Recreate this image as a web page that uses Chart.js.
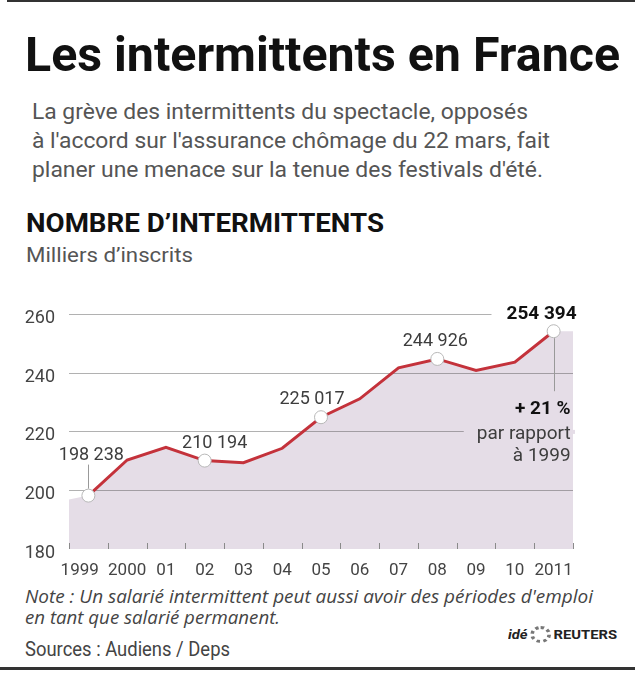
<!DOCTYPE html>
<html lang="fr">
<head>
<meta charset="utf-8">
<title>Les intermittents en France</title>
<script src="https://cdn.jsdelivr.net/npm/chart.js@4.4.1/dist/chart.umd.min.js"></script>
<style>
    html, body { margin: 0; padding: 0; background: #fff; }
    body { position: relative; width: 642px; height: 675px; overflow: hidden; font-family: Roboto, sans-serif; }
    .rule { position: absolute; background: #333; }
    .txt { position: absolute; white-space: nowrap; transform-origin: 0 0; }
    #title { left: 25px; top: 31px; font-size: 48px; line-height: 48px; font-weight: 700; color: #111; }
    .sub { left: 32px; font-size: 22px; line-height: 22px; color: #555; }
    #head { left: 26px; top: 211px; font-size: 25px; line-height: 25px; font-weight: 700; color: #111; }
    #unit { left: 26px; top: 245px; font-size: 20px; line-height: 20px; color: #555; }
    .note { left: 25px; font-family: "Open Sans", sans-serif; font-style: italic; font-size: 18px; line-height: 18px; color: #444; }
    #src { left: 25px; top: 639px; font-size: 20px; line-height: 20px; color: #444; }
    #logo { left: 508px; top: 626px; font-size: 12px; line-height: 16px; font-weight: 700; color: #222; }
    #logo i { font-style: italic; }
    #logo .dot { display: inline-block; width: 11px; height: 11px; border: 3px dotted #777; border-radius: 50%; vertical-align: -4px; margin: 0 2px; }
    #chartBox { position: absolute; left: 0; top: 290px; width: 642px; height: 290px; }
</style>
</head>
<body>
<div class="rule" style="left:7px;top:0;width:628px;height:2px"></div>
<div class="txt" id="title" data-w="595">Les intermittents en France</div>
<div class="txt sub" style="top:101px" data-w="496">La grève des intermittents du spectacle, opposés</div>
<div class="txt sub" style="top:130px" data-w="518">à l'accord sur l'assurance chômage du 22 mars, fait</div>
<div class="txt sub" style="top:159px" data-w="511">planer une menace sur la tenue des festivals d'été.</div>
<div class="txt" id="head" data-w="358">NOMBRE D’INTERMITTENTS</div>
<div class="txt" id="unit" data-w="167">Milliers d’inscrits</div>
<div id="chartBox"><canvas id="intermittentsChart"></canvas></div>
<div class="txt note" style="top:587px" data-w="568">Note : Un salarié intermittent peut aussi avoir des périodes d'emploi</div>
<div class="txt note" style="top:608px" data-w="255">en tant que salarié permanent.</div>
<div class="txt" id="src" data-w="205">Sources : Audiens / Deps</div>
<div class="txt" id="logo" data-w="109"><i>idé</i><span class="dot"></span>REUTERS</div>
<div class="rule" style="left:0;top:667px;width:635px;height:3px"></div>

<script>
// data (thousands of registered workers)
var years = ['1999', '2000', '01', '02', '03', '04', '05', '06', '07', '08', '09', '10', '2011'];
var inscrits = [198.238, 210.4, 214.7, 210.194, 209.5, 214.4, 225.017, 231.3, 241.9, 244.926, 241.0, 243.8, 254.394];
var valueLabels = ['198 238', '', '', '210 194', '', '', '225 017', '', '', '244 926', '', '', '254 394'];
var yTicks = [180, 200, 220, 240, 260];
var noteLines = ['+ 21 %', 'par rapport', 'à 1999'];

(function () {
    'use strict';

    var FILL = '#e5dde7';
    var INK = '#3d3d3d';

    // where each value label sits relative to its point
    var labelPos = {
        0: { dx: 3, dy: -36, leader: true },
        3: { dx: 10, dy: -13 },
        6: { dx: -9, dy: -13 },
        9: { dx: -2, dy: -13 },
        12: { dx: 23, dy: -12, align: 'right', bold: true }
    };

    function fitTexts() {
        var els = document.querySelectorAll('[data-w]');
        for (var i = 0; i < els.length; i++) {
            var w = els[i].getBoundingClientRect().width;
            var target = parseFloat(els[i].getAttribute('data-w'));
            if (w > 0) els[i].style.transform = 'scaleX(' + (target / w) + ')';
        }
    }

    var decor = {
        id: 'decor',
        beforeDraw: function (chart) {
            // area under the line, carried flat to both edges
            var pts = chart.getDatasetMeta(0).data;
            var a = chart.chartArea;
            var ctx = chart.ctx;
            if (!pts.length) return;
            ctx.save();
            ctx.beginPath();
            ctx.moveTo(a.left, a.bottom);
            ctx.lineTo(a.left, pts[0].y + 4);
            pts.forEach(function (p) { ctx.lineTo(p.x, p.y); });
            ctx.lineTo(a.right, pts[pts.length - 1].y);
            ctx.lineTo(a.right, a.bottom);
            ctx.closePath();
            ctx.fillStyle = FILL;
            ctx.fill();
            ctx.restore();
        },
        beforeDatasetsDraw: function (chart) {
            var ctx = chart.ctx;
            var a = chart.chartArea;
            var xs = chart.scales.x;
            var ys = chart.scales.y;
            var pts = chart.getDatasetMeta(0).data;
            var last = pts[pts.length - 1];

            ctx.save();
            // gaps in the grid behind the annotations
            ctx.font = '700 19px Roboto';
            var lw = ctx.measureText(valueLabels[12]).width;
            var y260 = ys.getPixelForValue(260);
            var gx = last.x + labelPos[12].dx - lw - 15;
            ctx.fillStyle = '#fff';
            ctx.fillRect(gx, y260 - 2, a.right - gx + 2, 4);

            ctx.font = '19px Roboto';
            var nw = 0;
            noteLines.forEach(function (t) { nw = Math.max(nw, ctx.measureText(t).width); });
            var y220 = ys.getPixelForValue(220);
            gx = last.x + 17 - nw - 13;
            ctx.fillStyle = FILL;
            ctx.fillRect(gx, y220 - 2, a.right - gx + 2, 4);

            // small tick marks between years, rising from the base
            ctx.strokeStyle = '#8a8a8a';
            ctx.lineWidth = 1;
            for (var i = 0; i <= years.length; i++) {
                var x = Math.round(xs.getPixelForValue(i - 0.5)) + 0.5;
                ctx.beginPath();
                ctx.moveTo(x, a.bottom);
                ctx.lineTo(x, a.bottom - 6);
                ctx.stroke();
            }
            ctx.restore();
        },
        afterDatasetsDraw: function (chart) {
            var ctx = chart.ctx;
            var pts = chart.getDatasetMeta(0).data;
            ctx.save();
            ctx.textBaseline = 'alphabetic';

            Object.keys(labelPos).forEach(function (k) {
                var p = pts[k];
                var o = labelPos[k];
                ctx.font = (o.bold ? '700 19px' : '18px') + ' Roboto';
                ctx.fillStyle = o.bold ? '#111' : INK;
                ctx.textAlign = o.align || 'center';
                ctx.fillText(valueLabels[k], p.x + o.dx, p.y + o.dy);
                if (o.leader) {
                    ctx.strokeStyle = '#999';
                    ctx.lineWidth = 1;
                    ctx.beginPath();
                    ctx.moveTo(Math.round(p.x) + 0.5, p.y + o.dy + 5);
                    ctx.lineTo(Math.round(p.x) + 0.5, p.y - 7);
                    ctx.stroke();
                }
            });

            // growth note under the last point
            var last = pts[pts.length - 1];
            ctx.strokeStyle = '#999';
            ctx.lineWidth = 1;
            ctx.beginPath();
            ctx.moveTo(Math.round(last.x) + 0.5, last.y + 7);
            ctx.lineTo(Math.round(last.x) + 0.5, last.y + 60);
            ctx.stroke();

            ctx.textAlign = 'right';
            ctx.font = '700 19px Roboto';
            ctx.fillStyle = '#111';
            ctx.fillText(noteLines[0], last.x + 17, last.y + 83);
            ctx.font = '19px Roboto';
            ctx.fillStyle = INK;
            ctx.fillText(noteLines[1], last.x + 17, last.y + 108);
            ctx.fillText(noteLines[2], last.x + 17, last.y + 130);
            ctx.restore();
        }
    };

    function initChart() {
        fitTexts();
        if (typeof Chart === 'undefined') return;
        var el = document.getElementById('intermittentsChart');

        Chart.defaults.font.family = 'Roboto, sans-serif';

        new Chart(el, {
            type: 'line',
            data: {
                labels: years,
                datasets: [{
                    label: 'Milliers d’inscrits',
                    data: inscrits,
                    borderColor: '#c4323b',
                    borderWidth: 3,
                    tension: 0,
                    fill: false,
                    pointRadius: function (c) { return valueLabels[c.dataIndex] ? 6.5 : 0; },
                    pointBackgroundColor: '#fff',
                    pointBorderColor: '#b8b8b8',
                    pointBorderWidth: 1,
                    pointHoverRadius: 0
                }]
            },
            options: {
                responsive: true,
                maintainAspectRatio: false,
                animation: false,
                events: [],
                layout: { padding: { top: 24, right: 69, left: 0, bottom: 0 } },
                plugins: {
                    legend: { display: false },
                    tooltip: { enabled: false }
                },
                scales: {
                    x: {
                        offset: true,
                        grid: { display: false },
                        border: { display: false },
                        ticks: {
                            color: '#444',
                            font: { size: 17 },
                            padding: 4,
                            maxRotation: 0,
                            autoSkip: false,
                            // the first year sits a little to the left of its slot
                            callback: function (v, i) { return i === 0 ? years[i] + '\u2003' : years[i]; }
                        },
                        afterFit: function (s) { s.height = 31; }
                    },
                    y: {
                        min: yTicks[0],
                        max: yTicks[yTicks.length - 1],
                        border: { display: false },
                        grid: {
                            drawTicks: false,
                            color: function (c) { return c.tick && c.tick.value === yTicks[0] ? 'transparent' : 'rgba(70, 70, 70, 0.42)'; }
                        },
                        ticks: {
                            stepSize: yTicks[1] - yTicks[0],
                            color: '#444',
                            font: { size: 18 },
                            padding: 14,
                            labelOffset: 4
                        },
                        afterFit: function (s) { s.width = 69; }
                    }
                }
            },
            plugins: [decor]
        });
    }

    if (document.fonts && document.fonts.ready) {
        document.fonts.ready.then(initChart);
    } else {
        document.addEventListener('DOMContentLoaded', initChart);
    }
})();
</script>
</body>
</html>
